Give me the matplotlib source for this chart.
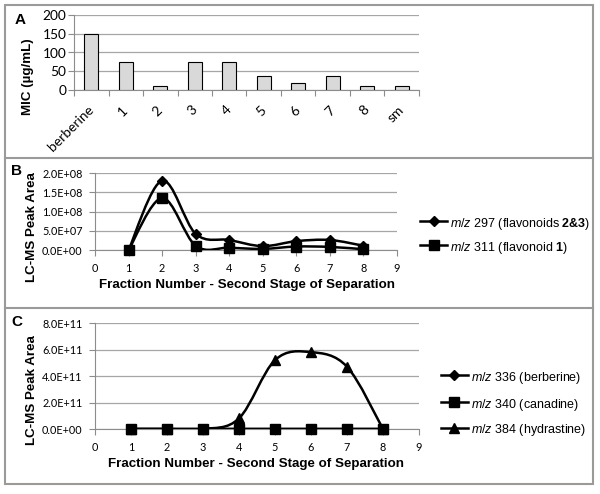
import numpy as np
import matplotlib
matplotlib.use("Agg")
import matplotlib.pyplot as plt
from matplotlib.path import Path
from matplotlib.patches import PathPatch, Rectangle
from matplotlib.lines import Line2D

plt.rcParams['mathtext.fontset'] = 'custom'
plt.rcParams['mathtext.rm'] = 'Liberation Sans'
plt.rcParams['mathtext.it'] = 'Liberation Sans:italic'
plt.rcParams['mathtext.bf'] = 'Liberation Sans:bold'

# ---------------- data ----------------
mic_categories = ["berberine", "1", "2", "3", "4", "5", "6", "7", "8", "sm"]
mic_values = [150, 75, 9.375, 75, 75, 37.5, 18.75, 37.5, 9.375, 9.375]

fractions = [1, 2, 3, 4, 5, 6, 7, 8]
mz297 = [0, 1.80e8, 4.2e7, 2.6e7, 1.0e7, 2.3e7, 2.6e7, 1.1e7]
mz311 = [0, 1.35e8, 1.1e7, 6e6, 3e6, 9e6, 8e6, 2e6]

mz336 = [0, 0, 0, 0, 0, 0, 0, 0]
mz340 = [0, 0, 0, 0, 0, 0, 0, 0]
mz384 = [0, 0, 0, 8e10, 5.2e11, 5.8e11, 4.7e11, 0]

a_yticks = [0, 50, 100, 150, 200]
a_yticklabels = ["0", "50", "100", "150", "200"]
b_yticks = [0, 5e7, 1e8, 1.5e8, 2e8]
b_yticklabels = ["0.0E+00", "5.0E+07", "1.0E+08", "1.5E+08", "2.0E+08"]
c_yticks = [0, 2e11, 4e11, 6e11, 8e11]
c_yticklabels = ["0.0E+00", "2.0E+11", "4.0E+11", "6.0E+11", "8.0E+11"]
x_ticks = list(range(0, 10))

labels_b = [r"$\mathit{m/z}$ 297 (flavonoids $\mathbf{2}$$\mathbf{&}$$\mathbf{3}$)",
            r"$\mathit{m/z}$ 311 (flavonoid $\mathbf{1}$)"]
labels_c = [r"$\mathit{m/z}$ 336 (berberine)",
            r"$\mathit{m/z}$ 340 (canadine)",
            r"$\mathit{m/z}$ 384 (hydrastine)"]

# ---------------- helpers ----------------
W, H = 600, 494
fig = plt.figure(figsize=(W / 100, H / 100), dpi=100)
fig.patch.set_facecolor('white')
renderer = fig.canvas.get_renderer()

TICKFAM = ['Lato', 'DejaVu Sans']
LABFAM = ['Liberation Sans', 'DejaVu Sans']

def fit_size(text, target_px, family, weight='normal', base=10.0):
    t = fig.text(0, 0, text, family=family, size=base, weight=weight)
    w = t.get_window_extent(renderer).width
    t.remove()
    return base * target_px / w

TICK_A = fit_size("200", 24, TICKFAM)
TICK_BC = fit_size("2.0E+08", 40, TICKFAM)
LAB = fit_size("LC-MS Peak Area", 110, LABFAM, weight='bold')
LEG = fit_size(labels_b[1], 118, LABFAM)

def ax_px(x0, x1, y0, y1):
    return fig.add_axes([x0 / W, 1 - y1 / H, (x1 - x0) / W, (y1 - y0) / H])

def fx(px):
    return px / W

def fy(py):
    return 1 - py / H

GRID = '#a6a6a6'
AXC = '#8c8c8c'

def smooth_path(x, y):
    pts = np.column_stack([x, y]).astype(float)
    n = len(pts)
    verts = [pts[0]]
    codes = [Path.MOVETO]
    for i in range(n - 1):
        p0 = pts[i - 1] if i > 0 else pts[i]
        p1 = pts[i]
        p2 = pts[i + 1]
        p3 = pts[i + 2] if i + 2 < n else pts[i + 1]
        c1 = p1 + (p2 - p0) / 6.0
        c2 = p2 - (p3 - p1) / 6.0
        verts += [c1, c2, p2]
        codes += [Path.CURVE4] * 3
    return Path(verts, codes)

def style_axes(ax, pad):
    for s in ['top', 'right']:
        ax.spines[s].set_visible(False)
    for s in ['left', 'bottom']:
        ax.spines[s].set_color(AXC)
        ax.spines[s].set_linewidth(0.8)
    ax.tick_params(axis='both', colors=AXC, labelcolor='black', length=4, width=0.8, pad=pad)
    ax.yaxis.grid(True, color=GRID, linewidth=0.9)
    ax.set_axisbelow(True)

def legend_manual(entries, x0, ys):
    for (mk, ms, lab), yy in zip(entries, ys):
        xs = [fx(x0), fx(x0 + 13.5), fx(x0 + 27)]
        fig.add_artist(Line2D(xs, [fy(yy)] * 3, transform=fig.transFigure, color='black', lw=1.8,
                              marker=mk, markersize=ms, markevery=[1]))
        fig.text(fx(x0 + 30), fy(yy), lab, ha='left', va='center_baseline', size=LEG, family=LABFAM)

# ---------------- panel A ----------------
axA = ax_px(74, 419, 15, 90)
style_axes(axA, pad=1.5)
xa = np.arange(len(mic_categories))
axA.bar(xa, mic_values, width=0.42, color='#d9d9d9', edgecolor='black', linewidth=0.8, zorder=3)
axA.set_xlim(-0.5, len(mic_categories) - 0.5)
axA.set_ylim(0, 200)
axA.set_yticks(a_yticks)
axA.set_yticklabels(a_yticklabels, family=TICKFAM, size=TICK_A)
axA.set_xticks(xa)
axA.set_xticklabels(mic_categories, rotation=45, ha='right', va='center', rotation_mode='anchor',
                    family=TICKFAM, size=TICK_A)
axA.tick_params(axis='x', which='major', length=0, pad=13)
axA.set_xticks(np.arange(-0.5, len(mic_categories)), minor=True)
axA.tick_params(axis='x', which='minor', length=4, color=AXC, width=0.8)
fig.text(fx(28), fy(77), "MIC (µg/mL)", rotation=90, ha='center', va='center', size=LAB,
         family=LABFAM, weight='bold')
fig.text(fx(20), fy(20), "A", ha='center', va='center', size=11, family=LABFAM, weight='bold')

# ---------------- panel B ----------------
axB = ax_px(95, 397, 173, 250)
style_axes(axB, pad=5)
axB.set_xlim(0, 9)
axB.set_ylim(0, 2e8)
axB.set_xticks(x_ticks)
axB.set_xticklabels([str(t) for t in x_ticks], family=TICKFAM, size=TICK_BC)
axB.set_yticks(b_yticks)
axB.set_yticklabels(b_yticklabels, family=TICKFAM, size=TICK_BC)
for ys, mk, ms in [(mz297, 'D', 5.5), (mz311, 's', 7)]:
    axB.add_patch(PathPatch(smooth_path(fractions, ys), facecolor='none', edgecolor='black', lw=1.8, zorder=4))
    axB.plot(fractions, ys, linestyle='none', marker=mk, markersize=ms, color='black', zorder=5, clip_on=False)
fig.text(fx(17), fy(171), "B", ha='center', va='center', size=11, family=LABFAM, weight='bold')
fig.text(fx(32), fy(227), "LC-MS Peak Area", rotation=90, ha='center', va='center', size=LAB,
         family=LABFAM, weight='bold')
fig.text(fx(247), fy(285), "Fraction Number - Second Stage of Separation", ha='center', va='center',
         size=LAB, family=LABFAM, weight='bold')
legend_manual([('D', 5.5, labels_b[0]), ('s', 7, labels_b[1])], 420, [221, 245])

# ---------------- panel C ----------------
axC = ax_px(95, 419, 323, 429)
style_axes(axC, pad=5)
axC.set_xlim(0, 9)
axC.set_ylim(0, 8e11)
axC.set_xticks(x_ticks)
axC.set_xticklabels([str(t) for t in x_ticks], family=TICKFAM, size=TICK_BC)
axC.set_yticks(c_yticks)
axC.set_yticklabels(c_yticklabels, family=TICKFAM, size=TICK_BC)
for ys, mk, ms, z in [(mz336, 'D', 5.5, 4), (mz340, 's', 7, 6), (mz384, '^', 7, 5)]:
    axC.add_patch(PathPatch(smooth_path(fractions, ys), facecolor='none', edgecolor='black', lw=1.8, zorder=z))
    axC.plot(fractions, ys, linestyle='none', marker=mk, markersize=ms, color='black', zorder=z + 0.5, clip_on=False)
fig.text(fx(17), fy(322), "C", ha='center', va='center', size=11, family=LABFAM, weight='bold')
fig.text(fx(32), fy(390), "LC-MS Peak Area", rotation=90, ha='center', va='center', size=LAB,
         family=LABFAM, weight='bold')
fig.text(fx(256), fy(464), "Fraction Number - Second Stage of Separation", ha='center', va='center',
         size=LAB, family=LABFAM, weight='bold')
legend_manual([('D', 5.5, labels_c[0]), ('s', 7, labels_c[1]), ('^', 7, labels_c[2])], 441, [375, 402, 428])

# ---------------- panel frames ----------------
BORDER = '#9a9a9a'
fig.add_artist(Rectangle((fx(5), fy(484)), 588 / W, 479 / H, transform=fig.transFigure,
                         facecolor='none', edgecolor=BORDER, lw=1.5))
for yy in [158, 308]:
    fig.add_artist(Line2D([fx(5), fx(593)], [fy(yy), fy(yy)], transform=fig.transFigure,
                          color=BORDER, lw=1.5))

fig.savefig("out.png", dpi=100)
